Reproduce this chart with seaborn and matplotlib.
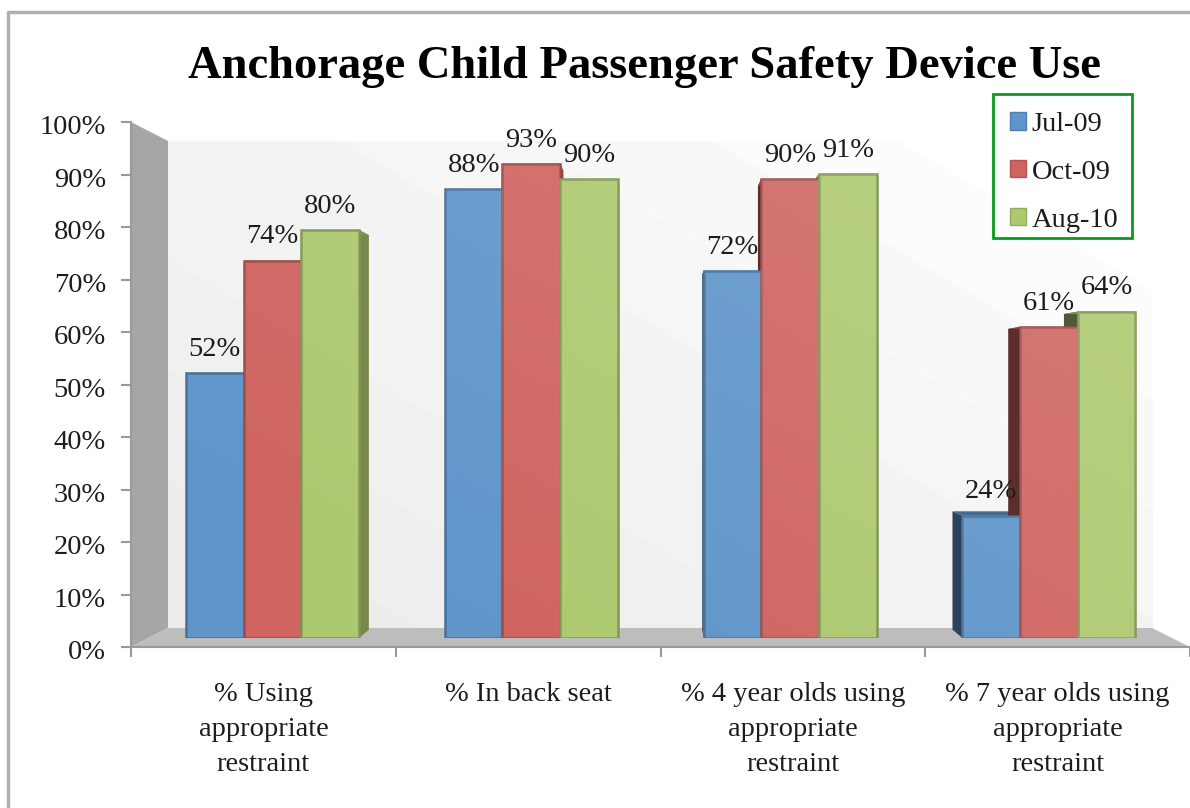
import numpy as np
import pandas as pd
import matplotlib
matplotlib.use("Agg")
import matplotlib.pyplot as plt
from matplotlib.patches import Polygon, Rectangle
from matplotlib.lines import Line2D
from matplotlib.colors import to_rgb
from matplotlib.transforms import ScaledTranslation
import seaborn as sns

categories = ["% Using\nappropriate\nrestraint", "% In back seat",
              "% 4 year olds using\nappropriate\nrestraint", "% 7 year olds using\nappropriate\nrestraint"]
periods = ["Jul-09", "Oct-09", "Aug-10"]
jul_09 = [52, 88, 72, 24]
oct_09 = [74, 93, 90, 61]
aug_10 = [80, 90, 91, 64]
colors = ["#5f95ca", "#cf6460", "#adc96f"]
yticks = list(range(0, 101, 10))
title = "Anchorage Child Passenger Safety Device Use"

W, H = 1190, 808
SCALE = 0.967  # depth of the bars towards the vanishing point
VP = (660, 385)
TEXT = "#1c1c1c"
FONT = "Liberation Serif"
FS = 20.5


def box(x0, y0, x1, y1):
    # pixel box (y downwards) to figure fraction
    return [x0 / W, 1 - y1 / H, (x1 - x0) / W, (y1 - y0) / H]


def shade(c, f):
    return tuple(v * f for v in to_rgb(c))


sns.set_theme(style="white")
plt.rcParams["font.family"] = [FONT, "DejaVu Serif"]

df = pd.DataFrame({
    "category": categories * 3,
    "period": [p for p in periods for _ in categories],
    "value": jul_09 + oct_09 + aug_10,
})

fig = plt.figure(figsize=(W / 100, H / 100), dpi=100, facecolor="white")

# chart frame, back wall, side wall and floor in pixel coordinates
bg = fig.add_axes([0, 0, 1, 1], zorder=0)
bg.set_xlim(0, W)
bg.set_ylim(H, 0)
bg.axis("off")
bg.add_line(Line2D([8, 8, W], [H, 12, 12], color="#b0b0b0", lw=2.5))

yy, xx = np.mgrid[141:629, 168:1153]
s = yy - 0.59 * xx
bands = np.digitize(s, [-390, -280, -170, -60, 50, 160, 270, 380])
grays = np.array([1.0, 0.985, 0.97, 0.962, 0.955, 0.947, 0.94, 0.932, 0.924])
bg.imshow(grays[bands], cmap="gray", vmin=0, vmax=1, extent=(168, 1153, 629, 141),
          aspect="auto", interpolation="bilinear")
bg.set_xlim(0, W)
bg.set_ylim(H, 0)
bg.add_patch(Polygon([(131, 122), (168, 141), (168, 628), (131, 647)], fc="#a6a6a6", ec="none"))
bg.add_patch(Polygon([(131, 647), (168, 628), (1152, 628), (1190, 647)], fc="#bdbdbd", ec="none"))

# axis with the ticks
ax_t = fig.add_axes(box(131, 122, 1190, 647), zorder=1)
ax_t.patch.set_alpha(0)
ax_t.set_xlim(0, 4)
ax_t.set_ylim(0, 100)
ax_t.set_yticks(yticks)
ax_t.set_yticklabels([f"{v}%" for v in yticks], fontsize=FS, color=TEXT)
ax_t.set_xticks(range(5))
ax_t.set_xticklabels([])
ax_t.set_xticks(np.arange(4) + 0.5, minor=True)
ax_t.set_xticklabels(categories, minor=True, fontsize=FS, color=TEXT, linespacing=1.52)
ax_t.tick_params(axis="y", length=7, width=1.5, color="#9a9a9a", pad=11, left=True)
ax_t.tick_params(axis="x", which="major", length=7, width=1.5, color="#9a9a9a", bottom=True)
ax_t.tick_params(axis="x", which="minor", length=0, pad=25.5)
for lab in ax_t.get_yticklabels():
    lab.set_transform(lab.get_transform() + ScaledTranslation(0, -2 / 72, fig.dpi_scale_trans))
sns.despine(ax=ax_t, top=True, right=True)
for side in ["left", "bottom"]:
    ax_t.spines[side].set_color("#9a9a9a")
    ax_t.spines[side].set_linewidth(1.5)

# bars
ax = fig.add_axes(box(143.1, 128, 1178.3, 638), zorder=2)
ax.patch.set_alpha(0)
sns.barplot(data=df, x="category", y="value", hue="period", palette=colors, saturation=1,
            width=0.668, gap=0, ax=ax)
ax.set_xlim(-0.5, 3.5)
ax.set_ylim(0, 100)
ax.set_xlabel("")
ax.set_ylabel("")
ax.set_xticks([])
ax.set_yticks([])
sns.despine(ax=ax, left=True, bottom=True)

vx, vy = ax.transData.inverted().transform((VP[0], H - VP[1]))


def back(x, y):
    return (vx + SCALE * (x - vx), vy + SCALE * (y - vy))


faces = []
for cont, col in zip(ax.containers, colors):
    for bar in cont:
        faces.append((bar, col))
        bar.set_edgecolor(shade(col, 0.75))
        bar.set_linewidth(1.8)
        bar.set_zorder(2)

# side and top faces, innermost bars first so outer ones overlap them
faces.sort(key=lambda f: abs(f[0].get_x() + f[0].get_width() / 2 - vx))
for bar, col in faces:
    x0, x1 = bar.get_x(), bar.get_x() + bar.get_width()
    y0, y1 = 0, bar.get_height()
    if (x0 + x1) / 2 < vx:
        xs, f = x1, 0.68
    else:
        xs, f = x0, 0.45
    ax.add_patch(Polygon([(xs, y0), (xs, y1), back(xs, y1), back(xs, y0)],
                         fc=shade(col, f), ec="none", zorder=1, clip_on=False))
    ax.add_patch(Polygon([(x0, y1), (x1, y1), back(x1, y1), back(x0, y1)],
                         fc=shade(col, 0.72), ec="none", zorder=1, clip_on=False))

# light sheen that grows towards the upper right of the chart
py, px = np.mgrid[128:638:4, 143:1179:4]
sheen = np.ones(py.shape + (4,))
sheen[..., 3] = np.clip((400 - (py - 0.59 * px)) / 800, 0, 1) * 0.13
for bar, col in faces:
    im = ax.imshow(sheen, extent=(-0.5, 3.5, 0, 100), aspect="auto", zorder=2.5, interpolation="bilinear")
    im.set_clip_path(bar)
ax.set_xlim(-0.5, 3.5)
ax.set_ylim(0, 100)

for cont, vals in zip(ax.containers, [jul_09, oct_09, aug_10]):
    ax.bar_label(cont, labels=[f"{v}%" for v in vals], padding=8, fontsize=FS, color=TEXT, zorder=4)

# legend box drawn apart, the legend's own padding can't be uneven
ax.add_patch(Rectangle((993 / W, 1 - 238 / H), 139 / W, 144 / H, transform=fig.transFigure, fc="white",
                       ec="#0a9a1a", lw=2, zorder=4.5, clip_on=False))
sns.move_legend(ax, "upper left", bbox_to_anchor=(993 / W, 1 - 95 / H), bbox_transform=fig.transFigure,
                title=None, frameon=False, fontsize=FS, borderaxespad=0, borderpad=0.6, labelspacing=0.8,
                handlelength=0.56, handleheight=0.56, handletextpad=0.2, labelcolor=TEXT)
ax.get_legend().set_zorder(5)
for h, col in zip(ax.get_legend().get_patches(), colors):
    h.set_edgecolor(shade(col, 0.85))

fig.text(644 / W, 1 - 67 / H, title, fontsize=33.5, fontweight="bold", color="black", ha="center", va="center")

fig.savefig("out.png", dpi=100)
